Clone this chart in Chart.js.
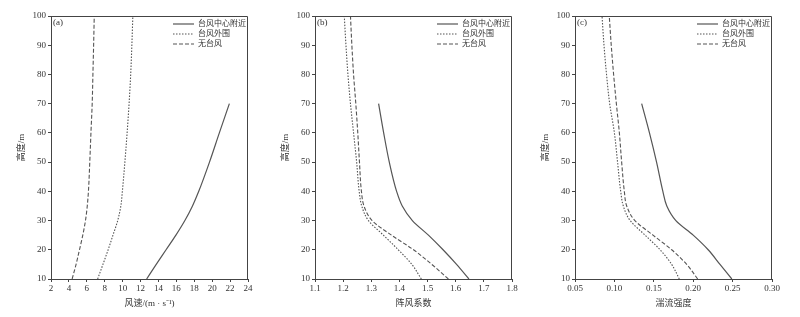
<!DOCTYPE html>
<html>
<head>
<meta charset="utf-8">
<script src="https://cdn.jsdelivr.net/npm/chart.js@4.4.0/dist/chart.umd.min.js"></script>
<style>
    html, body { margin: 0; padding: 0; background: #fff; }
    #wrap { position: relative; width: 800px; height: 317px; }
    #wrap canvas { position: absolute; top: 0; }
</style>
</head>
<body>
<div id="wrap">
    <canvas id="chartA" width="260" height="317" style="left:0px"></canvas>
    <canvas id="chartB" width="260" height="317" style="left:264px"></canvas>
    <canvas id="chartC" width="260" height="317" style="left:524px"></canvas>
</div>
<script>
// height levels (m)
const heightsFull = [10, 15, 20, 25, 30, 35, 40, 50, 60, 70, 80, 90, 100];
const heightsCenter = [10, 15, 20, 25, 30, 35, 40, 50, 60, 70];

const seriesNames = ['台风中心附近', '台风外围', '无台风'];

// (a) wind speed, m/s
const speedCenter = [12.68, 13.75, 14.85, 15.95, 16.95, 17.8, 18.5, 19.7, 20.8, 21.92];
const speedOuter = [7.21, 7.8, 8.38, 8.92, 9.45, 9.8, 9.97, 10.25, 10.5, 10.72, 10.9, 11.03, 11.14];
const speedNone = [4.36, 4.8, 5.18, 5.55, 5.85, 6.05, 6.18, 6.33, 6.46, 6.6, 6.68, 6.76, 6.83];

// (b) gust factor
const gustCenter = [1.647, 1.603, 1.555, 1.503, 1.446, 1.41, 1.39, 1.364, 1.344, 1.326];
const gustOuter = [1.478, 1.444, 1.396, 1.343, 1.29, 1.266, 1.257, 1.248, 1.237, 1.226, 1.217, 1.21, 1.204];
const gustNone = [1.574, 1.515, 1.45, 1.372, 1.303, 1.274, 1.265, 1.258, 1.252, 1.245, 1.237, 1.231, 1.226];

// (c) turbulence intensity
const turbCenter = [0.249, 0.234, 0.219, 0.200, 0.178, 0.1665, 0.1615, 0.1535, 0.1445, 0.1346];
const turbOuter = [0.1824, 0.1727, 0.158, 0.139, 0.12, 0.1113, 0.108, 0.104, 0.1, 0.094, 0.09, 0.0868, 0.0843];
const turbNone = [0.2057, 0.1917, 0.1727, 0.149, 0.126, 0.1156, 0.1126, 0.1092, 0.1063, 0.1025, 0.099, 0.096, 0.0935];

const FONT = '"Liberation Serif", "Noto Sans CJK SC", serif';
const INK = '#333';
const LINE = '#555';

function pairs(xs, ys) {
    return xs.map((v, i) => ({ x: v, y: ys[i] }));
}

// box round the plot area plus the (a)/(b)/(c) tag
const framePlugin = {
    id: 'frame',
    afterDraw(chart, args, opts) {
        const ctx = chart.ctx;
        const a = chart.chartArea;
        ctx.save();
        ctx.strokeStyle = '#444';
        ctx.lineWidth = 1;
        ctx.beginPath();
        ctx.moveTo(a.left, a.top + 0.5);
        ctx.lineTo(a.right - 0.5, a.top + 0.5);
        ctx.lineTo(a.right - 0.5, a.bottom);
        ctx.stroke();
        ctx.fillStyle = INK;
        ctx.font = '9px ' + FONT;
        ctx.textBaseline = 'middle';
        ctx.fillText(opts.tag, a.left + 2, a.top + 7);
        ctx.restore();
    }
};

// put the legend in the top right corner of the plot area
const legendCorner = {
    id: 'legendCorner',
    afterLayout(chart) {
        const lg = chart.legend;
        const a = chart.chartArea;
        if (!lg || !lg.columnSizes || !lg.columnSizes.length) return;
        const pad = lg.options.labels.padding;
        const colW = lg.columnSizes[0].width;
        lg.left = a.right - 2 - colW - pad;
        lg.right = lg.left + lg.width;
        lg.top = a.top + 2;
        lg.bottom = lg.top + lg.height;
    }
};

// legend samples keep the dataset dash pattern
function legendLabels(chart) {
    const items = Chart.defaults.plugins.legend.labels.generateLabels(chart);
    items.forEach((it) => {
        const ds = chart.data.datasets[it.datasetIndex];
        it.lineDash = ds.borderDash;
        it.lineWidth = ds.borderWidth;
        it.strokeStyle = ds.borderColor;
    });
    return items;
}

function makeChart(id, tag, center, outer, none, xOpts) {
    const ctx = document.getElementById(id).getContext('2d');
    return new Chart(ctx, {
        type: 'line',
        data: {
            datasets: [
                { label: seriesNames[0], data: pairs(center, heightsCenter), borderColor: LINE, borderWidth: 1.2, borderDash: [] },
                { label: seriesNames[1], data: pairs(outer, heightsFull), borderColor: LINE, borderWidth: 1.1, borderDash: [1.5, 1.5] },
                { label: seriesNames[2], data: pairs(none, heightsFull), borderColor: LINE, borderWidth: 1.1, borderDash: [4, 2] }
            ]
        },
        options: {
            responsive: false,
            animation: false,
            indexAxis: 'y',
            layout: { padding: { top: 16, right: 12, left: 0, bottom: 0 } },
            elements: {
                point: { radius: 0, hoverRadius: 0 },
                line: { cubicInterpolationMode: 'monotone', fill: false, backgroundColor: 'transparent' }
            },
            plugins: {
                tooltip: { enabled: false },
                legend: {
                    position: 'chartArea',
                    align: 'start',
                    labels: {
                        usePointStyle: true,
                        pointStyle: 'line',
                        pointStyleWidth: 21,
                        padding: 2,
                        color: INK,
                        font: { family: FONT, size: 8 },
                        generateLabels: legendLabels
                    }
                },
                frame: { tag: tag }
            },
            scales: {
                x: {
                    type: 'linear',
                    position: 'bottom',
                    min: xOpts.min,
                    max: xOpts.max,
                    afterFit(scale) { scale.height = 38; },
                    grid: { drawOnChartArea: false, drawTicks: true, tickLength: 3, tickColor: '#444' },
                    border: { display: true, color: '#444', width: 1 },
                    ticks: {
                        stepSize: xOpts.step,
                        color: INK,
                        padding: 1,
                        maxRotation: 0,
                        autoSkip: false,
                        font: { family: FONT, size: 9 },
                        callback: (v) => Number(v).toFixed(xOpts.digits)
                    },
                    title: {
                        display: true,
                        text: xOpts.title,
                        color: INK,
                        font: { family: FONT, size: 9 },
                        padding: { top: 0, bottom: 8 }
                    }
                },
                y: {
                    type: 'linear',
                    position: 'left',
                    min: 10,
                    max: 100,
                    afterFit(scale) { scale.width = 51; },
                    grid: { drawOnChartArea: false, drawTicks: true, tickLength: 3, tickColor: '#444' },
                    border: { display: true, color: '#444', width: 1 },
                    ticks: {
                        stepSize: 10,
                        color: INK,
                        padding: 2,
                        font: { family: FONT, size: 9 }
                    },
                    title: {
                        display: true,
                        text: '高度/m',
                        color: INK,
                        font: { family: FONT, size: 9 },
                        padding: { top: 16, bottom: 0 }
                    }
                }
            }
        },
        plugins: [framePlugin, legendCorner]
    });
}

makeChart('chartA', '(a)', speedCenter, speedOuter, speedNone,
    { min: 2, max: 24, step: 2, digits: 0, title: '风速/(m · s⁻¹)' });
makeChart('chartB', '(b)', gustCenter, gustOuter, gustNone,
    { min: 1.1, max: 1.8, step: 0.1, digits: 1, title: '阵风系数' });
makeChart('chartC', '(c)', turbCenter, turbOuter, turbNone,
    { min: 0.05, max: 0.30, step: 0.05, digits: 2, title: '湍流强度' });
</script>
</body>
</html>
